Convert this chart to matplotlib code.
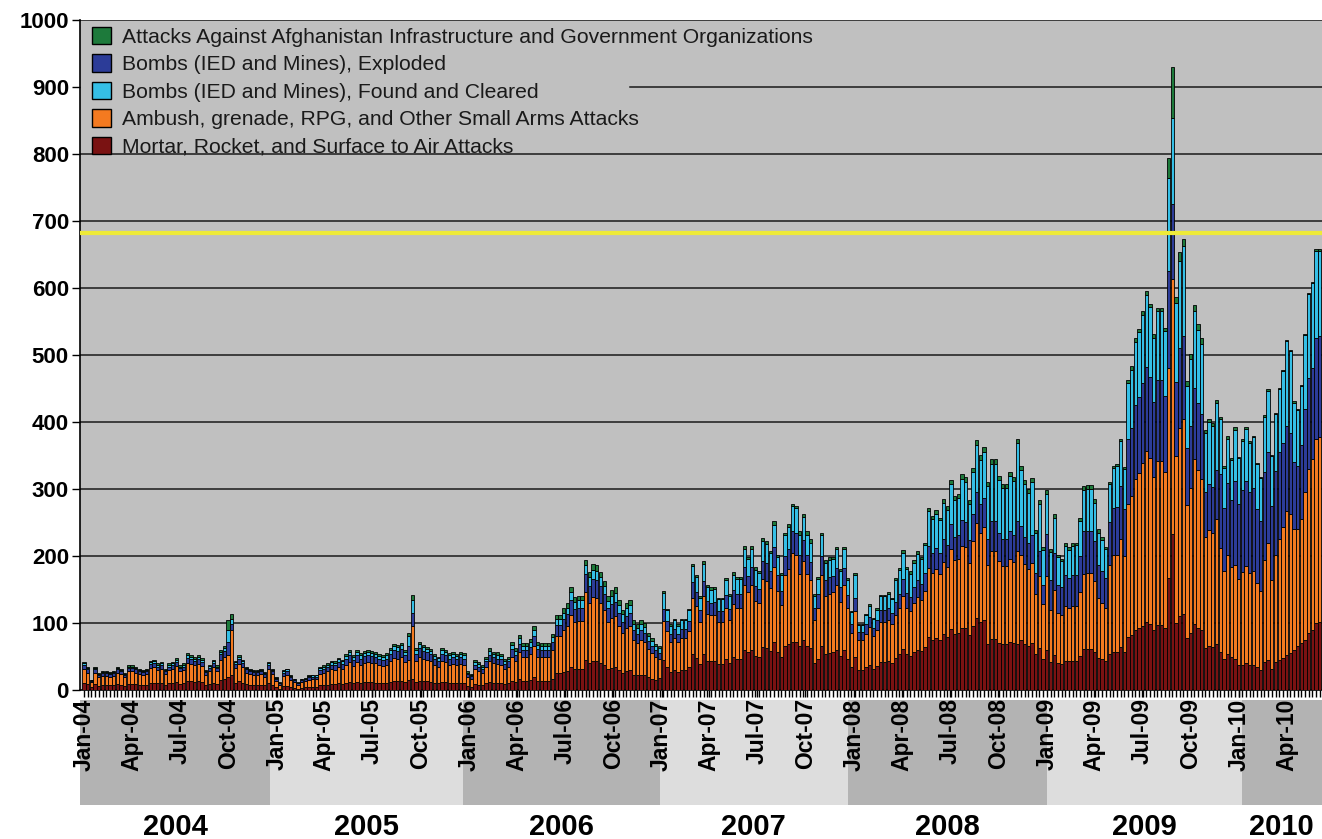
import numpy as np
import pandas as pd
import matplotlib
matplotlib.use("Agg")
import matplotlib.pyplot as plt
from matplotlib.patches import Rectangle
import matplotlib.transforms as mtransforms

plt.rcParams['font.family'] = ['Liberation Sans', 'DejaVu Sans']

# weekly incidents, Jan 2004 .. Jun 2010 (one value per week)
mortar = [
    # 2004
    10,9,4,9,6,7,7,7,7,9, 8,6,9,9,9,8,8,8,11,11, 10,10,8,10,10,12,9,10,14,13,
    12,13,12,8,9,11,9,15,16,19, 22,11,13,11,9,8,8,8,8,7, 10,8,
    # 2005
    4,2,6,6,4,3,2,3,4,4, 5,5,7,7,8,9,9,10,9,11, 12,10,12,11,12,12,12,11,11,10,
    11,12,14,13, 14,12,15,17,12,14,13,13,12,11, 10,12,12,11,11,11,11,11,
    # 2006
    6,5,9,8,7,10,12,11,11,11, 9,10,14,12,16,14,14,15,19,14, 14,14,14,17,25,25,27,29,34,31,
    31,31,45,40,43,43,40,37,32,33, 34,30,26,29,30,23,22,23,22,19, 17,15,
    # 2007
    18,45,34,27,30,27,30,30,34,53, 48,39,54,44,43,43,39,39,47,40, 49,47,47,60,56,60,51,50,64,62,
    58,71,57,49,66,69,72,72,66,74, 66,63,40,47,66,54,55,56,60,51, 60,47,
    # 2008
    35,50,30,30,34,38,32,36,42,42, 43,40,48,53,61,53,51,56,60,58, 64,79,75,78,75,83,79,91,84,85,
    93,92,82,96,108,102,105,68,76,76, 70,68,68,72,70,69,74,69,66,70, 53,62,47,
    # 2009
    60,42,52,40,39,44,43,44,44,51, 61,61,61,57,48,46,43,
    53,57,57,64,57,79,82,89,92,96,101,98,90,97,97,92, 167,233,
    100,111,114,78,85,98,93,89, 62,65,64,69,57,47,53,49,47,
    # 2010
    38,38,40,38,38,35,30,42,45,32, 42,45,48,52,55,60,65,70,75,85, 90,100,102,
]

small_arms = [
    21,17,8,17,13,14,14,13,14,17, 16,13,19,19,17,16,15,16,22,23, 20,21,16,20,21,24,19,20,27,26,
    25,26,24,15,19,23,19,30,33,33, 68,22,26,23,17,16,15,15,16,13, 21,16,
    10,6,15,16,11,9,6,9,9,11, 11,11,17,19,20,22,21,24,22,27, 30,26,30,27,29,30,29,29,27,26,
    27,31,34,34, 35,30,30,78,31,36,34,32,31,27, 25,31,30,27,28,27,28,27,
    14,12,22,21,19,25,31,29,28,27, 23,25,36,31,41,35,35,38,47,36, 35,35,35,42,56,56,62,66,78,71,
    72,72,101,90,96,95,90,83,70,74, 76,66,59,64,66,51,48,51,49,42, 38,34,
    29,58,54,44,48,44,48,48,54,85, 77,63,86,70,69,69,62,62,75,64, 79,76,76,97,90,97,82,80,102,100,
    94,113,91,78,106,112,133,130,107,118, 107,101,65,76,106,87,89,90,96,81, 96,75,
    50,68,44,44,50,56,48,53,60,60, 61,58,64,69,79,70,67,74,79,76, 84,103,99,102,98,108,104,119,110,111,
    122,121,108,126,142,133,138,118,131,131, 122,117,117,124,121,138,127,119,114,120, 91,108,81,
    110,78,97,75,73,81,79,81,81,95, 112,113,113,105,89,84,79,
    133,144,145,161,143,199,208,226,232,243,256,248,228,245,245,233, 314,380,
    250,280,290,198,216,247,235,226, 167,174,171,186,155,130,148,135,140,
    128,138,145,137,140,125,118,152,175,132, 160,180,196,215,208,180,175,185,220,245, 255,275,276,
]

ied_exploded = [
    6,5,2,5,3,4,4,4,4,5, 4,3,5,5,5,4,4,4,6,6, 5,6,4,5,6,6,5,5,7,7,
    7,7,6,4,5,6,5,8,9,20, 9,6,7,6,5,4,4,4,4,4, 6,4,
    3,2,5,6,4,3,2,3,3,4, 4,4,6,6,7,7,7,8,8,9, 10,9,10,9,10,10,10,10,9,9,
    9,11,12,11, 12,10,20,20,11,12,11,11,10,9, 9,11,10,9,10,9,10,9,
    4,4,7,6,6,8,9,9,8,8, 7,8,11,9,12,11,11,11,14,11, 11,11,11,13,16,16,17,18,22,19,
    20,20,27,25,26,26,25,23,20,21, 22,19,17,18,19,15,14,15,14,12, 11,10,
    8,18,15,12,13,12,13,13,15,23, 21,17,23,19,18,19,17,17,20,17, 21,20,20,26,24,26,22,21,27,27,
    25,30,24,21,28,30,33,33,28,32, 28,27,17,20,28,23,24,24,26,22, 26,20,
    14,20,12,12,14,15,13,15,17,17, 18,17,20,22,25,22,21,23,25,24, 26,33,31,32,31,34,33,38,35,35,
    39,38,34,40,45,42,43,40,45,45, 42,40,40,42,41,45,44,41,39,41, 31,37,28,
    63,44,55,42,41,46,45,46,46,54, 64,64,64,60,50,48,45,
    65,70,71,79,70,97,101,110,113,119,125,121,112,120,120,114, 144,112,
    110,120,125,85,93,106,101,97, 66,69,68,74,110,95,108,99,125,
    112,123,127,120,124,110,104,132,135,110, 125,130,125,127,120,100,95,110,125,135, 135,150,150,
]

ied_cleared = [
    3,2,1,2,2,2,2,2,2,2, 2,2,2,2,2,2,2,2,3,3, 3,3,2,3,3,3,2,3,4,4,
    3,4,3,2,3,3,2,4,5,18, 7,3,4,3,2,2,2,2,2,2, 3,2,
    1,1,2,3,2,1,1,1,1,2, 2,2,3,3,3,4,4,4,4,4, 5,4,5,5,4,5,4,4,4,4,
    5,5,6,6, 6,5,15,20,5,6,6,5,5,4, 4,5,5,5,4,4,4,5,
    2,2,4,4,3,4,6,5,5,5, 4,4,6,6,8,6,6,7,9,6, 6,6,6,7,9,9,9,10,12,11,
    11,11,13,13,14,14,13,12,11,13, 13,12,11,11,12,9,9,9,9,7, 7,6,
    8,24,16,13,13,13,13,13,16,24, 23,18,25,20,20,20,18,18,22,19, 23,22,22,28,26,28,24,23,30,29,
    27,33,26,23,31,32,36,36,31,34, 31,29,19,22,31,25,26,26,28,24, 28,22,
    17,33,11,11,14,17,13,16,21,21, 22,21,32,35,40,35,34,37,39,37, 42,52,50,51,49,54,52,59,55,55,
    61,60,54,63,70,67,69,78,86,86, 80,77,77,82,80,116,84,79,75,80, 60,71,53,
    59,42,53,41,39,44,42,44,45,52, 61,62,62,57,48,46,43,
    56,60,61,67,60,83,87,95,97,102,107,104,96,103,103,97, 139,128,
    117,130,134,92,100,115,109,105, 89,92,91,100,82,59,66,61,76,
    68,73,78,74,75,67,64,82,92,75, 85,94,107,127,123,89,83,88,110,126, 127,130,127,
]

infrastructure = [
    2,2,0,2,1,1,1,1,1,2, 2,1,2,2,2,2,1,2,2,2, 2,2,2,2,2,3,2,2,3,2,
    3,2,3,1,2,2,2,3,3,15, 8,2,2,2,2,2,1,1,2,1, 2,2,
    1,1,2,1,1,1,1,1,1,1, 1,1,1,2,2,2,2,2,2,3, 3,3,3,3,3,3,3,3,3,3,
    3,3,3,3, 3,3,5,7,3,3,3,3,3,3, 2,3,3,3,3,3,3,3,
    2,1,3,3,2,3,4,3,4,3, 3,3,5,4,5,4,4,5,6,4, 4,4,4,5,6,6,7,7,8,7,
    7,7,8,8,9,8,8,8,8,9, 9,8,7,8,8,6,5,6,6,5, 5,4,
    2,3,2,2,2,2,2,2,2,3, 3,3,4,3,3,3,2,2,3,3, 4,4,4,4,3,4,4,3,4,4,
    4,5,4,3,4,5,3,3,5,5, 5,5,3,4,4,5,4,3,4,3, 3,3,
    2,3,2,2,2,2,2,2,2,2, 2,2,3,3,4,4,4,4,4,4, 4,5,5,6,4,6,6,6,6,6,
    7,7,5,7,8,7,7,7,7,7, 6,6,6,6,6,6,6,6,6,6, 4,5,4,
    6,4,5,4,4,4,4,4,4,5, 6,6,6,6,5,4,4,
    3,3,3,3,3,5,5,5,5,5,7,5,5,5,5,5, 30,77,
    10,12,10,8,8,8,9,8, 4,4,4,4,4,3,4,3,4,
    2,2,2,2,2,2,2,2,2,2, 2,2,2,2,2,2,2,2,2,2, 2,3,3,
]

# stacked bottom -> top
series = [
    ("Mortar, Rocket, and Surface to Air Attacks", mortar, "#7a1212"),
    ("Ambush, grenade, RPG, and Other Small Arms Attacks", small_arms, "#f47a20"),
    ("Bombs (IED and Mines), Exploded", ied_exploded, "#2c3c98"),
    ("Bombs (IED and Mines), Found and Cleared", ied_cleared, "#35bfe6"),
    ("Attacks Against Afghanistan Infrastructure and Government Organizations", infrastructure, "#1d7a3b"),
]
legend_order = [4, 2, 3, 1, 0]

years = ["2004", "2005", "2006", "2007", "2008", "2009", "2010"]
year_edges = [-1.1, 50.5, 102.7, 156.1, 207.0, 261.0, 313.8, 335.6]
band_colors = ["#b3b3b3", "#dddddd"]
threshold = 682


def main():
    n = len(mortar)
    for name, vals, c in series:
        assert len(vals) == n, (name, len(vals))
    weeks = np.arange(n)

    fig = plt.figure(figsize=(13.22, 8.39), dpi=100)
    ax = fig.add_axes([80 / 1322, 149 / 839, 1242 / 1322, 670 / 839])
    ax.set_facecolor("#c0c0c0")

    bottom = np.zeros(n)
    handles = []
    for name, vals, c in series:
        b = ax.bar(weeks, vals, bottom=bottom, width=0.9, color=c,
                   edgecolor="black", linewidth=0.6, label=name, zorder=3)
        handles.append(b)
        bottom = bottom + np.array(vals)

    ax.set_xlim(-1.1, 335.6)
    ax.set_ylim(0, 1000)

    # horizontal grid lines (the 900 one is hidden behind the legend)
    for v in range(100, 1001, 100):
        xmin = 0.443 if v == 900 else 0
        ax.axhline(v, xmin=xmin, color="#1a1a1a", linewidth=1.1, zorder=1)
    ax.axhline(threshold, color="#eeea38", linewidth=3, zorder=5)

    ax.set_yticks(range(0, 1001, 100))
    ax.tick_params(axis="y", length=6, width=1, pad=2, labelsize=16)
    for t in ax.get_yticklabels():
        t.set_fontweight("bold")

    months = pd.date_range("2004-01-01", "2010-04-01", freq="QS")
    start = pd.Timestamp("2004-01-01")
    pos = [(d - start).days / 7 for d in months]
    ax.set_xticks(pos)
    ax.set_xticklabels([d.strftime("%b-%y") for d in months], rotation=90,
                       fontsize=16.5, fontweight="bold")
    ax.set_xticks(weeks, minor=True)
    ax.tick_params(axis="x", which="both", length=5, width=1, pad=1)

    for s in ["top", "right"]:
        ax.spines[s].set_visible(False)
    ax.spines["left"].set_linewidth(1.2)
    ax.spines["bottom"].set_linewidth(1.2)

    # year bands under the month labels
    trans = mtransforms.blended_transform_factory(ax.transData, ax.transAxes)
    for k, yr in enumerate(years):
        x0, x1 = year_edges[k], year_edges[k + 1]
        ax.add_patch(Rectangle((x0, -0.1716), x1 - x0, 0.1567, transform=trans,
                               facecolor=band_colors[k % 2], edgecolor="none",
                               clip_on=False, zorder=0.5))
        ax.text((x0 + x1) / 2, -0.204, yr, transform=trans, ha="center", va="center",
                fontsize=21, fontweight="bold")

    leg = ax.legend([handles[k] for k in legend_order],
                    [series[k][0] for k in legend_order], loc="upper left",
                    bbox_to_anchor=(-0.002, 1.012), frameon=False,
                    prop={"size": 15.2},
                    handlelength=0.88, handleheight=0.88, handletextpad=0.55,
                    labelspacing=0.36, borderaxespad=0.3)
    for h in leg.legend_handles:
        h.set_edgecolor("black")
        h.set_linewidth(1)
    for t in leg.get_texts():
        t.set_color("#1a1a1a")

    fig.savefig("out.png", dpi=100)


if __name__ == "__main__":
    main()
